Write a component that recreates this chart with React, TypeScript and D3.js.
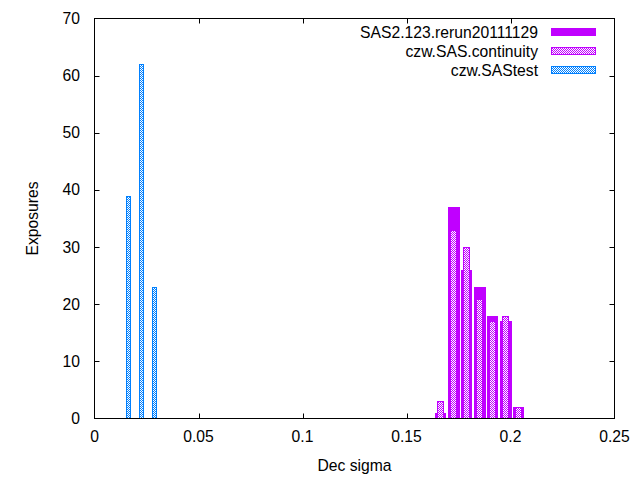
import * as d3 from 'd3';

// histogram bins (Dec sigma) and exposure counts
const sasBins = [0.1661, 0.1724, 0.1786, 0.1849, 0.1911, 0.1974, 0.2036];
const sasRerun = [1, 37, 26, 23, 18, 17, 2];
const sasContinuity = [3, 33, 30, 21, 17, 18, 2];
const testBins = [0.0161, 0.0224, 0.0286];
const sasTest = [39, 62, 23];

const xTicks = [0, 0.05, 0.1, 0.15, 0.2, 0.25];
const yTicks = [0, 10, 20, 30, 40, 50, 60, 70];
const seriesNames = ['SAS2.123.rerun20111129', 'czw.SAS.continuity', 'czw.SAStest'];

const W = 640;
const H = 480;
const FONT = '"Liberation Sans", Arial, sans-serif';
const PURPLE = '#c000ff';
const BLUE = '#0080ff';

export default function App() {
  const margin = { left: 94.5, right: 25.5, top: 18.5, bottom: 61.5 };
  const x = d3.scaleLinear().domain([0, 0.25]).range([margin.left, W - margin.right]);
  const y = d3.scaleLinear().domain([0, 70]).range([H - margin.bottom, margin.top]);
  const fmt = (v: number) => (v === 0 ? '0' : String(+v.toFixed(2)));

  const bar = (c: number, v: number, w: number) => {
    const x0 = Math.round(x(c - w / 2)) + 0.5;
    const x1 = Math.round(x(c + w / 2)) + 0.5;
    return { x: x0, y: Math.round(y(v)) + 0.5, w: x1 - x0, h: y(0) - (Math.round(y(v)) + 0.5) };
  };

  const fullW = 0.0052;
  const contW = 0.003;
  const testW = 0.0018;

  const keyX = 551;
  const keyW = 45;
  const keyRows = [32, 51, 70];

  return (
    <div style={{ position: 'fixed', left: 0, top: 0 }}>
      <svg width={W} height={H} style={{ display: 'block', background: '#fff' }} fontFamily={FONT} fontSize={15.7}>
        <defs>
          <pattern id="chkP" width={2} height={2} patternUnits="userSpaceOnUse">
            <rect width={2} height={2} fill="#fff" />
            <rect width={1} height={1} fill={PURPLE} />
            <rect x={1} y={1} width={1} height={1} fill={PURPLE} />
          </pattern>
          <pattern id="chkB" width={2} height={2} patternUnits="userSpaceOnUse">
            <rect width={2} height={2} fill="#fff" />
            <rect width={1} height={1} fill={BLUE} />
            <rect x={1} y={1} width={1} height={1} fill={BLUE} />
          </pattern>
        </defs>

        {/* ticks (mirrored, inward) */}
        <g stroke="#000" strokeWidth={1}>
          {xTicks.map((t, i) =>
            i === 0 || i === xTicks.length - 1 ? null : (
              <g key={'xt' + i}>
                <line x1={Math.round(x(t)) + 0.5} x2={Math.round(x(t)) + 0.5} y1={y(0)} y2={y(0) - 5} />
                <line x1={Math.round(x(t)) + 0.5} x2={Math.round(x(t)) + 0.5} y1={y(70)} y2={y(70) + 5} />
              </g>
            )
          )}
          {yTicks.map((t, i) =>
            i === 0 || i === yTicks.length - 1 ? null : (
              <g key={'yt' + i}>
                <line x1={x(0)} x2={x(0) + 5} y1={Math.round(y(t)) + 0.5} y2={Math.round(y(t)) + 0.5} />
                <line x1={x(0.25)} x2={x(0.25) - 5} y1={Math.round(y(t)) + 0.5} y2={Math.round(y(t)) + 0.5} />
              </g>
            )
          )}
        </g>

        {/* bars */}
        {sasRerun.map((v, i) => {
          const b = bar(sasBins[i], v, fullW);
          return <rect key={'r' + i} x={b.x - 0.5} y={b.y - 0.5} width={b.w + 1} height={b.h + 1} fill={PURPLE} />;
        })}
        {sasContinuity.map((v, i) => {
          const b = bar(sasBins[i], v, contW);
          return <rect key={'c' + i} x={b.x} y={b.y} width={b.w} height={b.h} fill="url(#chkP)" stroke={PURPLE} />;
        })}
        {sasTest.map((v, i) => {
          const b = bar(testBins[i], v, testW);
          return <rect key={'t' + i} x={b.x} y={b.y} width={b.w} height={b.h} fill="url(#chkB)" stroke={BLUE} />;
        })}

        {/* border */}
        <rect x={x(0)} y={y(70)} width={x(0.25) - x(0)} height={y(0) - y(70)} fill="none" stroke="#000" />

        {/* tick labels */}
        <g fill="#000">
          {xTicks.map((t, i) => (
            <text key={'xl' + i} x={x(t)} y={442} textAnchor="middle">{fmt(t)}</text>
          ))}
          {yTicks.map((t, i) => (
            <text key={'yl' + i} x={80} y={y(t) + 5.5} textAnchor="end">{t}</text>
          ))}
        </g>

        {/* axis titles */}
        <text x={(x(0) + x(0.25)) / 2} y={471} textAnchor="middle">Dec sigma</text>
        <text transform={`translate(38,${(y(0) + y(70)) / 2}) rotate(-90)`} textAnchor="middle">Exposures</text>

        {/* legend */}
        {seriesNames.map((name, i) => (
          <g key={'lg' + i}>
            <text x={538} y={keyRows[i] + 5.5} textAnchor="end">{name}</text>
            {i === 0 ? (
              <rect x={keyX} y={keyRows[i] - 4} width={keyW} height={8} fill={PURPLE} />
            ) : (
              <rect x={keyX + 0.5} y={keyRows[i] - 3.5} width={keyW - 1} height={7}
                fill={i === 1 ? 'url(#chkP)' : 'url(#chkB)'} stroke={i === 1 ? PURPLE : BLUE} />
            )}
          </g>
        ))}
      </svg>
    </div>
  );
}
